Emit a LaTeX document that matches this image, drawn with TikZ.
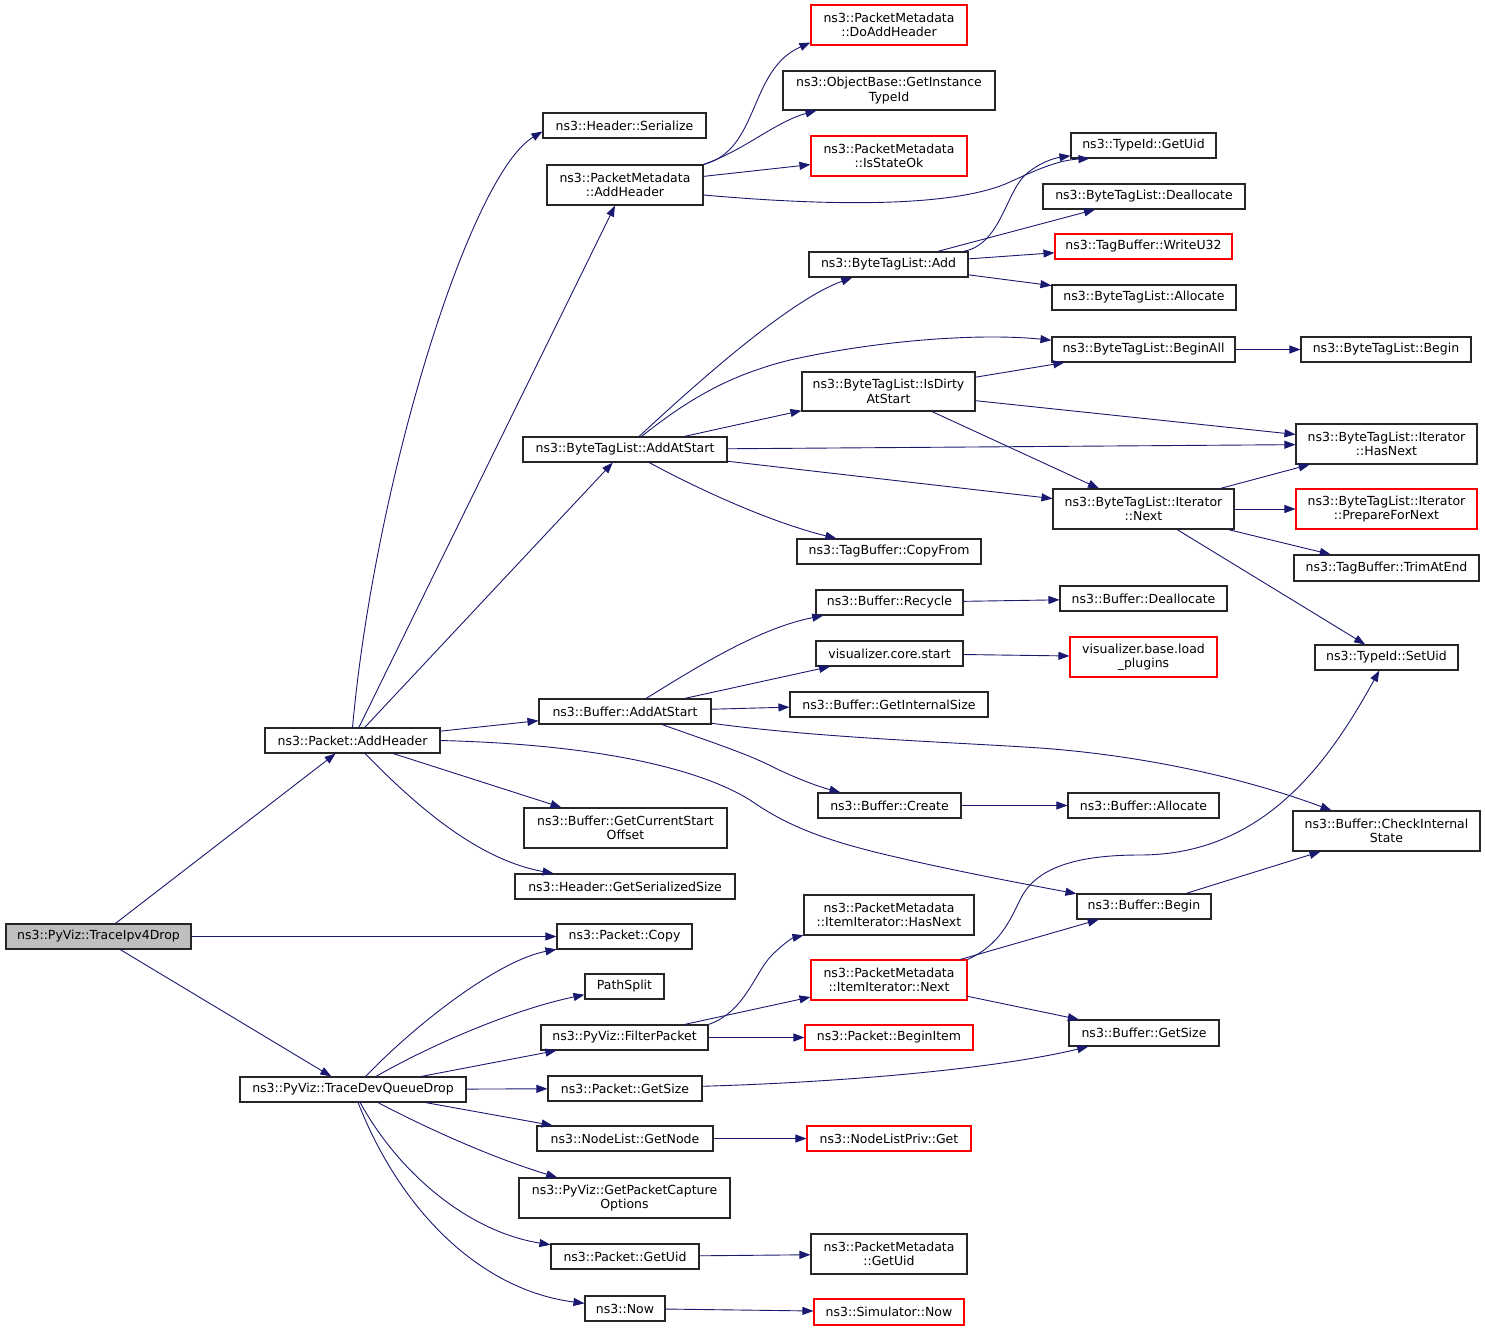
\documentclass[tikz,border=0pt]{standalone}
\usepackage{fontspec}
\setmainfont{DejaVu Sans}
\usetikzlibrary{arrows.meta}
\definecolor{edgeblue}{HTML}{191970}

\begin{document}
\begin{tikzpicture}[x=1pt,y=-1pt,
  fn/.style={draw=black!85,line width=1.1pt,inner sep=0pt,minimum height=25pt,align=center,font=\fontsize{12.5}{14.5}\selectfont},
  tall/.style={minimum height=40pt},
  missing/.style={draw=red},
  root/.style={fill=black!25},
  call/.style={-{Triangle[length=11pt,width=8pt]},color=edgeblue,line width=0.9pt}]
\path[fill=white] (0,0) rectangle (1485,1332);
\useasboundingbox (0,0) rectangle (1485,1332);
% callers
\node[fn,root,minimum width=185pt] (traceipv4) at (98.5,936.5) {ns3::PyViz::TraceIpv4Drop};
\node[fn,minimum width=175pt] (pktaddhdr) at (352.5,740.5) {ns3::Packet::AddHeader};
\node[fn,minimum width=226pt] (devqdrop) at (353,1089.5) {ns3::PyViz::TraceDevQueueDrop};
% second column
\node[fn,minimum width=163pt] (hdrser) at (624.5,125.5) {ns3::Header::Serialize};
\node[fn,tall,minimum width=156pt] (pmaddhdr) at (625,185) {ns3::PacketMetadata\\::AddHeader};
\node[fn,minimum width=204pt] (btladdstart) at (625,449.5) {ns3::ByteTagList::AddAtStart};
\node[fn,minimum width=172pt] (bufaddstart) at (625,711.5) {ns3::Buffer::AddAtStart};
\node[fn,tall,minimum width=203pt] (bufcuroff) at (625.5,828) {ns3::Buffer::GetCurrentStart\\Offset};
\node[fn,minimum width=220pt] (hdrsersize) at (625,886.5) {ns3::Header::GetSerializedSize};
\node[fn,minimum width=135pt] (pktcopy) at (624.5,936.5) {ns3::Packet::Copy};
\node[fn,minimum width=79pt] (pathsplit) at (624.5,986.5) {PathSplit};
\node[fn,minimum width=167pt] (filterpkt) at (624.5,1037.5) {ns3::PyViz::FilterPacket};
\node[fn,minimum width=154pt] (pktgetsize) at (625,1088.5) {ns3::Packet::GetSize};
\node[fn,minimum width=176pt] (getnode) at (625,1138.5) {ns3::NodeList::GetNode};
\node[fn,tall,minimum width=211pt] (capopts) at (624.5,1198) {ns3::PyViz::GetPacketCapture\\Options};
\node[fn,minimum width=148pt] (pktgetuid) at (625,1256.5) {ns3::Packet::GetUid};
\node[fn,minimum width=80pt] (now) at (625,1308.5) {ns3::Now};
% third column
\node[fn,tall,missing,minimum width=156pt] (pmdoadd) at (889,25) {ns3::PacketMetadata\\::DoAddHeader};
\node[fn,tall,minimum width=212pt,minimum height=39pt] (objtid) at (889,90.5) {ns3::ObjectBase::GetInstance\\TypeId};
\node[fn,tall,missing,minimum width=156pt] (pmstate) at (889,156) {ns3::PacketMetadata\\::IsStateOk};
\node[fn,minimum width=159pt] (btladd) at (888.5,264.5) {ns3::ByteTagList::Add};
\node[fn,tall,minimum width=173pt,minimum height=39pt] (btldirty) at (888.5,391.5) {ns3::ByteTagList::IsDirty\\AtStart};
\node[fn,minimum width=184pt] (tbcopy) at (889,551.5) {ns3::TagBuffer::CopyFrom};
\node[fn,minimum width=147pt] (bufrecycle) at (889.5,602.5) {ns3::Buffer::Recycle};
\node[fn,minimum width=147pt] (vizstart) at (889.5,653.5) {visualizer.core.start};
\node[fn,minimum width=198pt] (bufintsize) at (889,704.5) {ns3::Buffer::GetInternalSize};
\node[fn,minimum width=143pt] (bufcreate) at (889.5,805.5) {ns3::Buffer::Create};
\node[fn,tall,minimum width=170pt] (pmithasnext) at (889,915) {ns3::PacketMetadata\\::ItemIterator::HasNext};
\node[fn,tall,missing,minimum width=156pt] (pmitnext) at (889,980) {ns3::PacketMetadata\\::ItemIterator::Next};
\node[fn,missing,minimum width=168pt] (beginitem) at (889,1037.5) {ns3::Packet::BeginItem};
\node[fn,missing,minimum width=164pt] (nlpget) at (889,1138.5) {ns3::NodeListPriv::Get};
\node[fn,tall,minimum width=156pt] (pmgetuid) at (889,1254) {ns3::PacketMetadata\\::GetUid};
\node[fn,missing,minimum width=150pt,minimum height=26pt] (simnow) at (889,1312) {ns3::Simulator::Now};
% fourth column
\node[fn,minimum width=145pt] (tidgetuid) at (1143.5,145.5) {ns3::TypeId::GetUid};
\node[fn,minimum width=202pt] (btldealloc) at (1144,196.5) {ns3::ByteTagList::Deallocate};
\node[fn,missing,minimum width=177pt] (tbwrite) at (1143.5,246.5) {ns3::TagBuffer::WriteU32};
\node[fn,minimum width=184pt] (btlalloc) at (1144,297.5) {ns3::ByteTagList::Allocate};
\node[fn,minimum width=183pt] (btlbeginall) at (1143.5,349.5) {ns3::ByteTagList::BeginAll};
\node[fn,tall,minimum width=181pt] (itnext) at (1143.5,509) {ns3::ByteTagList::Iterator\\::Next};
\node[fn,minimum width=167pt] (bufdealloc) at (1143.5,598.5) {ns3::Buffer::Deallocate};
\node[fn,tall,missing,minimum width=147pt] (vizload) at (1143.5,657) {visualizer.base.load\\\_plugins};
\node[fn,minimum width=151pt] (bufalloc) at (1143.5,805.5) {ns3::Buffer::Allocate};
\node[fn,minimum width=134pt] (bufbegin) at (1144,906.5) {ns3::Buffer::Begin};
\node[fn,minimum width=150pt,minimum height=26pt] (bufgetsize) at (1144,1033) {ns3::Buffer::GetSize};
% fifth column
\node[fn,minimum width=170pt] (btlbegin) at (1386,349.5) {ns3::ByteTagList::Begin};
\node[fn,tall,minimum width=181pt] (ithasnext) at (1386.5,444) {ns3::ByteTagList::Iterator\\::HasNext};
\node[fn,tall,missing,minimum width=181pt] (itprep) at (1386.5,509) {ns3::ByteTagList::Iterator\\::PrepareForNext};
\node[fn,minimum width=185pt,minimum height=26pt] (tbtrim) at (1386.5,568) {ns3::TagBuffer::TrimAtEnd};
\node[fn,minimum width=143pt] (tidsetuid) at (1386.5,657.5) {ns3::TypeId::SetUid};
\node[fn,tall,minimum width=187pt] (bufcheck) at (1386.5,831) {ns3::Buffer::CheckInternal\\State};

% calls of the root
\draw[call] (traceipv4) -- (pktaddhdr);
\draw[call] (traceipv4) -- (pktcopy);
\draw[call] (traceipv4) -- (devqdrop);
% Packet::AddHeader
\draw[call] (pktaddhdr.north) .. controls (375,480) and (470,175) .. ([yshift=-6pt]hdrser.west);
\draw[call] (pktaddhdr) -- (pmaddhdr);
\draw[call] (pktaddhdr) -- (btladdstart);
\draw[call] (pktaddhdr) -- (bufaddstart);
\draw[call] (pktaddhdr) -- (bufcuroff);
\draw[call] (pktaddhdr) .. controls (420,810) and (480,860) .. (hdrsersize);
\draw[call] (pktaddhdr.east) .. controls (620,745) and (710,775) .. (750,800)
  .. controls (790,828) and (830,842) .. (900,858) .. controls (960,872) and (1030,885) .. (bufbegin);
% PacketMetadata::AddHeader
\draw[call] (pmaddhdr.north east) .. controls (760,150) and (748,70) .. ([yshift=3pt]pmdoadd.south west);
\draw[call] (pmaddhdr.north east) .. controls (745,150) and (775,122) .. (objtid);
\draw[call] (pmaddhdr) -- (pmstate);
\draw[call] ([yshift=-10pt]pmaddhdr.east) .. controls (850,208) and (960,205) .. (1010,182)
  .. controls (1040,168) and (1060,160) .. ([xshift=19pt]tidgetuid.south west);
% ByteTagList::Add
\draw[call] (btladd) .. controls (1000,245) and (1005,195) .. (1025,175)
  .. controls (1040,162) and (1055,158) .. (tidgetuid);
\draw[call] (btladd) -- (btldealloc);
\draw[call] (btladd) -- (tbwrite);
\draw[call] (btladd) -- (btlalloc);
% ByteTagList::AddAtStart
\draw[call] (btladdstart) .. controls (700,380) and (790,300) .. (btladd);
\draw[call] (btladdstart) .. controls (690,398) and (730,375) .. (790,360)
  .. controls (880,340) and (980,333) .. (btlbeginall);
\draw[call] (btladdstart) -- (btldirty);
\draw[call] (btladdstart) -- (ithasnext);
\draw[call] (btladdstart) -- (itnext);
\draw[call] (btladdstart) .. controls (700,490) and (770,522) .. (tbcopy);
\draw[call] (btldirty) -- (btlbeginall);
\draw[call] (btldirty) -- (ithasnext);
\draw[call] (btldirty) -- (itnext);
\draw[call] (btlbeginall) -- (btlbegin);
\draw[call] (itnext) -- (ithasnext);
\draw[call] (itnext) -- (itprep);
\draw[call] (itnext) -- (tbtrim);
\draw[call] (itnext) -- (tidsetuid);
% Buffer::AddAtStart
\draw[call] (bufaddstart) .. controls (700,665) and (760,628) .. (bufrecycle);
\draw[call] (bufaddstart) -- (vizstart);
\draw[call] (bufaddstart) -- (bufintsize);
\draw[call] (bufaddstart) .. controls (820,738) and (950,742) .. (1040,748)
  .. controls (1150,756) and (1250,780) .. (bufcheck);
\draw[call] (bufaddstart) .. controls (720,745) and (750,755) .. (775,768)
  .. controls (800,780) and (820,787) .. (bufcreate);
\draw[call] (bufrecycle) -- (bufdealloc);
\draw[call] (vizstart) -- (vizload);
\draw[call] (bufcreate) -- (bufalloc);
\draw[call] (bufbegin) -- (bufcheck);
% TraceDevQueueDrop
\draw[call] (devqdrop) .. controls (420,1020) and (500,960) .. (pktcopy);
\draw[call] (devqdrop) .. controls (440,1040) and (520,1008) .. (pathsplit);
\draw[call] (devqdrop) -- (filterpkt);
\draw[call] (devqdrop) -- (pktgetsize);
\draw[call] (devqdrop) -- (getnode);
\draw[call] (devqdrop) .. controls (440,1135) and (500,1160) .. (capopts);
\draw[call] (devqdrop) .. controls (400,1175) and (470,1232) .. (pktgetuid);
\draw[call] (devqdrop) .. controls (400,1210) and (480,1290) .. (now);
% FilterPacket
\draw[call] (filterpkt.north east) .. controls (745,1012) and (755,972) .. (772,955)
  .. controls (782,945) and (792,938) .. (pmithasnext);
\draw[call] (filterpkt) -- (pmitnext);
\draw[call] (filterpkt) -- (beginitem);
\draw[call] (pmitnext) -- (bufbegin);
\draw[call] (pmitnext) -- (bufgetsize);
\draw[call] (pmitnext.north east) .. controls (1000,945) and (1010,920) .. (1020,900)
  .. controls (1035,868) and (1075,855) .. (1140,855) .. controls (1265,855) and (1330,760) .. (tidsetuid);
% the rest
\draw[call] (pktgetsize) .. controls (850,1082) and (1000,1068) .. (bufgetsize);
\draw[call] (getnode) -- (nlpget);
\draw[call] (pktgetuid) -- (pmgetuid);
\draw[call] (now) -- (simnow);
\end{tikzpicture}
\end{document}
